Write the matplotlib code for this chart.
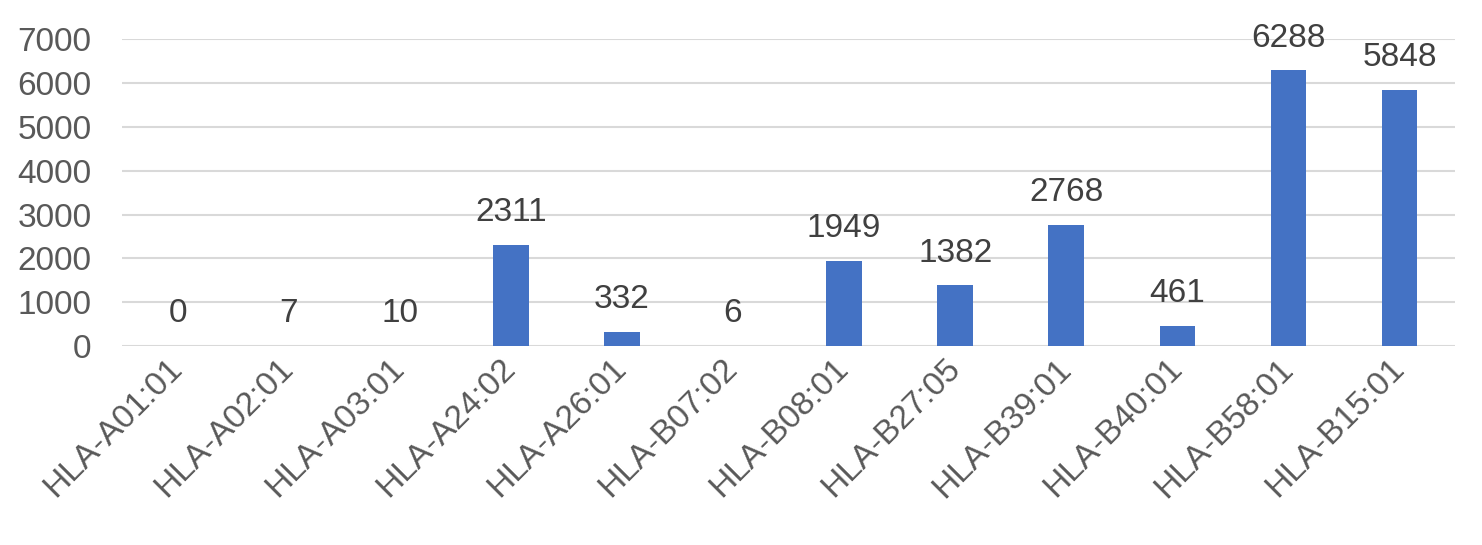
import matplotlib.pyplot as plt

plt.rcParams['font.family'] = ['Liberation Sans', 'DejaVu Sans']

# data
alleles = ['HLA-A01:01', 'HLA-A02:01', 'HLA-A03:01', 'HLA-A24:02', 'HLA-A26:01',
           'HLA-B07:02', 'HLA-B08:01', 'HLA-B27:05', 'HLA-B39:01', 'HLA-B40:01',
           'HLA-B58:01', 'HLA-B15:01']
counts = [0, 7, 10, 2311, 332, 6, 1949, 1382, 2768, 461, 6288, 5848]
yticks = [0, 1000, 2000, 3000, 4000, 5000, 6000, 7000]

fig = plt.figure(figsize=(14.82, 5.45), dpi=100)
ax = fig.add_axes([0.0823, 0.365, 0.8995, 0.563])

x = range(len(alleles))
ax.bar(x, counts, width=0.32, color='#4472C4', zorder=3)

for xi, v in zip(x, counts):
    ax.annotate(str(v), (xi, v), xytext=(0, 12), textcoords='offset points',
                ha='center', va='bottom', fontsize=24, color='#404040')

ax.set_xlim(-0.5, len(alleles) - 0.5)
ax.set_ylim(0, 7000)
ax.set_yticks(yticks)
ax.yaxis.grid(True, color='#D9D9D9', linewidth=1.5, zorder=0)
for s in ax.spines.values():
    s.set_visible(False)
ax.tick_params(axis='both', length=0, labelsize=24, labelcolor='#595959')
ax.tick_params(axis='y', pad=22)
ax.set_xticks(list(x))
ax.set_xticklabels(alleles, rotation=45, ha='right', va='center', rotation_mode='anchor')
ax.tick_params(axis='x', pad=13)

fig.savefig('out.png', dpi=100)
